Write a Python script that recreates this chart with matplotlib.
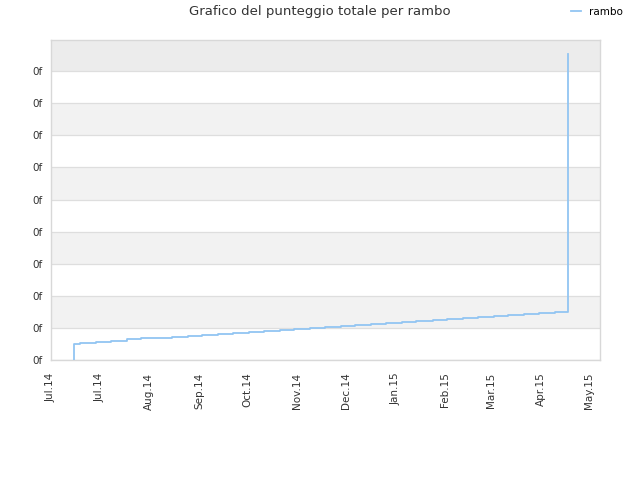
import matplotlib
matplotlib.use("Agg")
import matplotlib.pyplot as plt
import matplotlib.dates as mdates
import pandas as pd
from matplotlib.lines import Line2D

title = "Grafico del punteggio totale per rambo"
series_name = "rambo"

dates = ["2014-06-15", "2014-06-15", "2014-06-19", "2014-06-29", "2014-07-08", "2014-07-18",
         "2014-07-27", "2014-08-06", "2014-08-15", "2014-08-25", "2014-09-03", "2014-09-13",
         "2014-09-22", "2014-10-02", "2014-10-11", "2014-10-21", "2014-10-30", "2014-11-09",
         "2014-11-18", "2014-11-28", "2014-12-07", "2014-12-17", "2014-12-26", "2015-01-05",
         "2015-01-14", "2015-01-24", "2015-02-02", "2015-02-12", "2015-02-21", "2015-03-03",
         "2015-03-12", "2015-03-22", "2015-03-31", "2015-04-10", "2015-04-18", "2015-04-18"]
values = [0.0, 0.51, 0.54, 0.57, 0.60, 0.64, 0.67, 0.70, 0.73, 0.76, 0.79, 0.82,
          0.85, 0.88, 0.91, 0.95, 0.98, 1.01, 1.04, 1.07, 1.10, 1.13, 1.16, 1.19,
          1.22, 1.25, 1.28, 1.31, 1.35, 1.38, 1.41, 1.44, 1.47, 1.50, 1.50, 9.52]

tick_dates = ["2014-06-01", "2014-07-01", "2014-08-01", "2014-09-01", "2014-10-01", "2014-11-01",
              "2014-12-01", "2015-01-01", "2015-02-01", "2015-03-01", "2015-04-01", "2015-05-01"]
tick_labels = ["Jul.14", "Jul.14", "Aug.14", "Sep.14", "Oct.14", "Nov.14",
               "Dec.14", "Jan.15", "Feb.15", "Mar.15", "Apr.15", "May.15"]
y_ticks = [0, 1, 2, 3, 4, 5, 6, 7, 8, 9]
y_labels = ["0f"] * 10

plt.rcParams['font.family'] = ['DejaVu Sans']

fig = plt.figure(figsize=(6.4, 4.8), dpi=100)
ax = fig.add_axes([51/640, 120/480, 549/640, 320/480])

x = pd.to_datetime(dates)
ax.plot(x, values, drawstyle='steps-post', color='#92c5f2', lw=1.3, zorder=3)

ymax = 9.97
ax.set_ylim(0, ymax)
ax.set_xlim(pd.Timestamp("2014-06-01"), pd.Timestamp("2015-05-08"))

for lo in [1, 3, 5, 7]:
    ax.axhspan(lo, lo + 1, color='#f2f2f2', zorder=0, lw=0)
ax.axhspan(9, ymax, color='#ececec', zorder=0, lw=0)

ax.set_yticks(y_ticks)
ax.set_yticklabels(y_labels)
ax.set_xticks(pd.to_datetime(tick_dates))
ax.set_xticklabels(tick_labels, rotation=90)
ax.tick_params(axis='both', length=0, labelsize=7.5, colors='#333333')
ax.tick_params(axis='y', pad=6)
ax.tick_params(axis='x', pad=9)
ax.yaxis.grid(True, color='#dedede', lw=0.9, zorder=1)
ax.set_axisbelow(True)
for s in ax.spines.values():
    s.set_color('#d8d8d8')
    s.set_linewidth(1.0)

fig.text(0.5, 1 - 12/480, title, ha='center', va='center', fontsize=9.5, color='#333333')
fig.legend(handles=[Line2D([], [], color='#92c5f2', lw=1.3)], labels=[series_name],
           loc='center', bbox_to_anchor=(597/640, 1 - 12/480), frameon=False,
           fontsize=7.5, handlelength=1.0, handletextpad=0.8)

fig.savefig("out.png", dpi=100)
